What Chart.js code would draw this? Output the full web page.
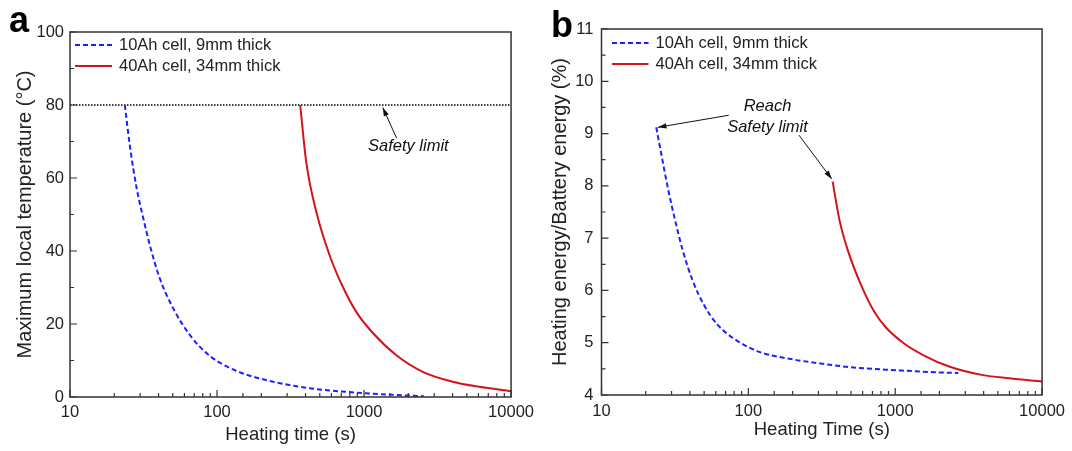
<!DOCTYPE html>
<html>
<head>
<meta charset="utf-8">
<script src="https://cdn.jsdelivr.net/npm/chart.js@4.4.1/dist/chart.umd.min.js"></script>
<style>
  body { margin: 0; background: #fff; }
  #wrap { position: relative; width: 1072px; height: 451px; }
  #pa { position: absolute; left: 0; top: 0; }
  #pb { position: absolute; left: 540px; top: 0; }
</style>
</head>
<body>
<div id="wrap">
  <canvas id="pa" width="540" height="451"></canvas>
  <canvas id="pb" width="532" height="451"></canvas>
</div>
<script>
// ---- data ----
const seriesLabels = ['10Ah cell, 9mm thick', '40Ah cell, 34mm thick'];

// panel a: max local temperature (°C) vs heating time (s)
const timeA10 = [23.6, 25.5, 28.4, 31.5, 34.9, 40.8, 50.3, 65.3, 89, 135, 228, 426, 582, 1270, 2550];
const tempA10 = [80, 69, 57.2, 49, 41.6, 32.5, 24.3, 17, 11.3, 7.2, 4.4, 2.4, 1.8, 0.8, 0.2];
const timeA40 = [368, 404, 473, 582, 717, 883, 1145, 1651, 2506, 4003, 6068, 10000];
const tempA40 = [80, 64.5, 50.8, 38.9, 30.2, 23.4, 17.6, 11.5, 6.9, 4.2, 2.8, 1.6];
const safetyTime = [10, 10000];
const safetyTemp = [80, 80];

// panel b: heating energy / battery energy (%) vs heating time (s)
const timeB10 = [23.6, 25.5, 28.2, 31.3, 35.7, 41.6, 49.9, 61.4, 83.6, 120, 202, 297, 499, 1084, 1700, 2687];
const enB10   = [9.12, 8.62, 7.98, 7.41, 6.77, 6.20, 5.72, 5.35, 5.04, 4.82, 4.68, 4.61, 4.53, 4.47, 4.44, 4.42];
const timeB40 = [375, 417, 474, 582, 717, 859, 1143, 1560, 2356, 3954, 5984, 10000];
const enB40   = [8.08, 7.35, 6.78, 6.12, 5.60, 5.30, 4.99, 4.76, 4.54, 4.38, 4.32, 4.26];

const xTickLabels = [10, 100, 1000, 10000];

const BLUE = '#1f1fff';
const RED = '#d3141c';
const INK = '#222';
const FONT = 'Arial, "Liberation Sans", sans-serif';

Chart.defaults.font.family = FONT;
Chart.defaults.color = INK;

const pts = (xs, ys) => xs.map((x, i) => ({ x, y: ys[i] }));

// frame, inward ticks, in-plot legend, annotations, panel letter
const decor = {
  id: 'decor',
  afterDraw(chart, args, o) {
    const { ctx, chartArea: a, scales: { x, y } } = chart;
    ctx.save();
    ctx.strokeStyle = '#333';
    ctx.lineWidth = 1.5;
    ctx.strokeRect(a.left, a.top, a.right - a.left, a.bottom - a.top);

    ctx.lineWidth = 1.2;
    ctx.beginPath();
    x.ticks.forEach(t => {
      const px = x.getPixelForValue(t.value);
      const lg = Math.log10(t.value);
      const len = Math.abs(lg - Math.round(lg)) < 1e-6 ? 7 : 4;
      ctx.moveTo(px, a.bottom); ctx.lineTo(px, a.bottom - len);
    });
    y.ticks.forEach(t => {
      const py = y.getPixelForValue(t.value);
      const len = t.label !== '' ? 7 : 4;
      ctx.moveTo(a.left, py); ctx.lineTo(a.left + len, py);
    });
    ctx.stroke();

    // legend
    ctx.font = '16.5px ' + FONT;
    ctx.textBaseline = 'middle';
    ctx.fillStyle = INK;
    chart.data.datasets.forEach((ds, i) => {
      if (ds.skipLegend) return;
      const yy = a.top + o.legend.y0 + i * o.legend.dy;
      ctx.save();
      ctx.strokeStyle = ds.borderColor;
      ctx.lineWidth = ds.borderWidth;
      ctx.setLineDash(ds.borderDash || []);
      ctx.beginPath();
      ctx.moveTo(a.left + o.legend.x0, yy);
      ctx.lineTo(a.left + o.legend.x1, yy);
      ctx.stroke();
      ctx.restore();
      ctx.fillText(ds.label, a.left + o.legend.tx, yy);
    });

    // arrows
    ctx.strokeStyle = '#111';
    ctx.fillStyle = '#111';
    ctx.lineWidth = 1;
    (o.arrows || []).forEach(ar => {
      const x0 = x.getPixelForValue(ar.from[0]), y0 = y.getPixelForValue(ar.from[1]);
      const x1 = x.getPixelForValue(ar.to[0]), y1 = y.getPixelForValue(ar.to[1]);
      const ang = Math.atan2(y1 - y0, x1 - x0);
      ctx.beginPath(); ctx.moveTo(x0, y0); ctx.lineTo(x1, y1); ctx.stroke();
      ctx.beginPath();
      ctx.moveTo(x1, y1);
      ctx.lineTo(x1 - 9 * Math.cos(ang - 0.3), y1 - 9 * Math.sin(ang - 0.3));
      ctx.lineTo(x1 - 9 * Math.cos(ang + 0.3), y1 - 9 * Math.sin(ang + 0.3));
      ctx.closePath(); ctx.fill();
    });
    ctx.font = 'italic 16.5px ' + FONT;
    ctx.textAlign = 'center';
    (o.notes || []).forEach(n => {
      ctx.fillText(n.text, x.getPixelForValue(n.at[0]), y.getPixelForValue(n.at[1]));
    });

    // panel letter
    ctx.font = 'bold 36px ' + FONT;
    ctx.textAlign = 'left';
    ctx.textBaseline = 'alphabetic';
    ctx.fillStyle = '#000';
    ctx.fillText(o.letter, o.letterX, o.letterY);
    ctx.restore();
  }
};

function makePanel(el, cfg) {
  return new Chart(el, {
    type: 'line',
    data: { datasets: cfg.datasets },
    plugins: [decor],
    options: {
      responsive: false,
      animation: false,
      layout: { padding: cfg.pad },
      elements: { point: { radius: 0 } },
      plugins: {
        legend: { display: false },
        tooltip: { enabled: false },
        decor: cfg.decor,
      },
      scales: {
        x: {
          type: 'logarithmic',
          min: 10, max: 10000,
          grid: { display: false, drawTicks: false },
          border: { display: false },
          afterFit: s => { s.height = cfg.xh; },
          ticks: {
            autoSkip: false, maxRotation: 0, padding: cfg.xtp,
            font: { size: 16.5 },
            callback: v => xTickLabels.includes(v) ? String(v) : '',
          },
          title: { display: true, text: cfg.xTitle, font: { size: 18.5 }, padding: { top: 0, bottom: cfg.xtitlePad } },
        },
        y: {
          min: cfg.ymin, max: cfg.ymax,
          grid: { display: false, drawTicks: false },
          border: { display: false },
          afterFit: s => { s.width = cfg.yw; },
          ticks: {
            stepSize: cfg.ystep, padding: cfg.ytp,
            font: { size: 16.5 },
            callback: cfg.yLabel,
          },
          title: { display: true, text: cfg.yTitle, font: { size: 20 }, padding: { top: cfg.ytitlePad, bottom: 0 } },
        },
      },
    },
  });
}

const blueStyle = { borderColor: BLUE, borderWidth: 2, borderDash: [5, 3], fill: false, cubicInterpolationMode: 'monotone' };
const redStyle = { borderColor: RED, borderWidth: 2, fill: false, cubicInterpolationMode: 'monotone' };

makePanel(document.getElementById('pa'), {
  pad: { left: 0, top: 32, right: 28, bottom: 0 },
  xh: 54, yw: 70, xtp: 6, ytp: 6, xtitlePad: 5, ytitlePad: 13,
  ymin: 0, ymax: 100, ystep: 10,
  yLabel: v => v % 20 === 0 ? String(v) : '',
  xTitle: 'Heating time (s)',
  yTitle: 'Maximum local temperature (°C)',
  datasets: [
    Object.assign({ label: seriesLabels[0], data: pts(timeA10, tempA10) }, blueStyle),
    Object.assign({ label: seriesLabels[1], data: pts(timeA40, tempA40) }, redStyle),
    { label: 'Safety limit', skipLegend: true, data: pts(safetyTime, safetyTemp), borderColor: '#000', borderWidth: 1.5, borderDash: [1.5, 1.5] },
  ],
  decor: {
    legend: { x0: 5, x1: 42, tx: 49, y0: 13, dy: 21 },
    arrows: [{ from: [1667, 70.9], to: [1340, 79.3] }],
    notes: [{ text: 'Safety limit', at: [2000, 68.6] }],
    letter: 'a', letterX: 9, letterY: 32,
  },
});

makePanel(document.getElementById('pb'), {
  pad: { left: 0, top: 29, right: 25.5, bottom: 0 },
  xh: 56, yw: 61.5, xtp: 7, ytp: 8, xtitlePad: 10, ytitlePad: 8,
  ymin: 4, ymax: 11, ystep: 0.5,
  yLabel: v => Number.isInteger(v) ? String(v) : '',
  xTitle: 'Heating Time (s)',
  yTitle: 'Heating energy/Battery energy (%)',
  datasets: [
    Object.assign({ label: seriesLabels[0], data: pts(timeB10, enB10) }, blueStyle),
    Object.assign({ label: seriesLabels[1], data: pts(timeB40, enB40) }, redStyle),
  ],
  decor: {
    legend: { x0: 10.5, x1: 47, tx: 54, y0: 14, dy: 21 },
    arrows: [
      { from: [73.5, 9.35], to: [24.2, 9.12] },
      { from: [221, 8.97], to: [370, 8.13] },
    ],
    notes: [
      { text: 'Reach', at: [135, 9.51] },
      { text: 'Safety limit', at: [135, 9.12] },
    ],
    letter: 'b', letterX: 11, letterY: 37,
  },
});
</script>
</body>
</html>
